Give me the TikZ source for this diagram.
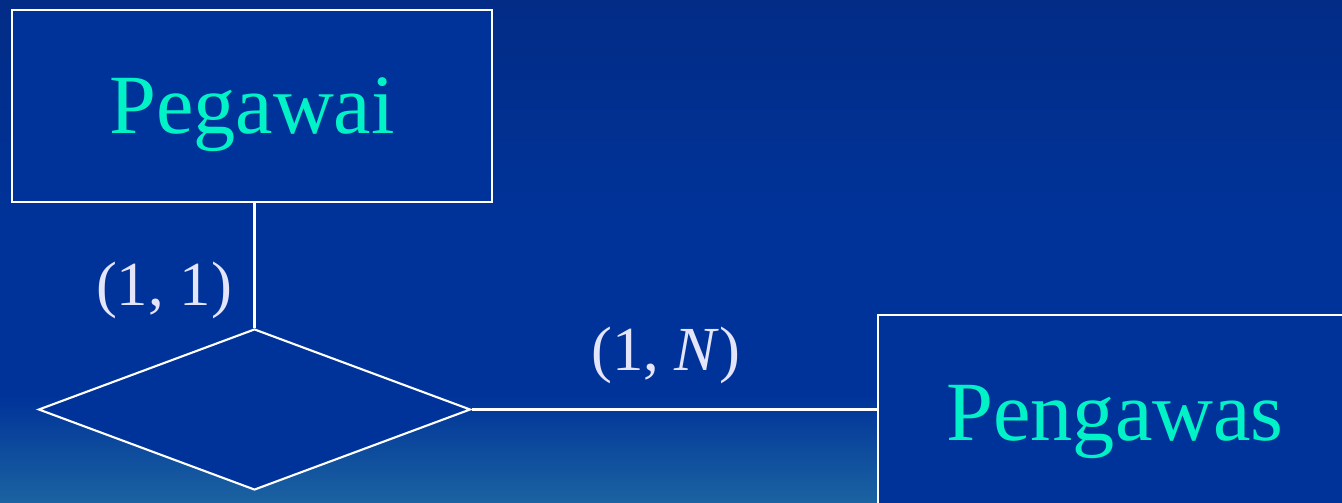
\documentclass[tikz,border=0pt]{standalone}
\usepackage{fontspec}
\setmainfont{Liberation Serif}
\usetikzlibrary{shapes.geometric}
\definecolor{bgblue}{HTML}{003399}
\definecolor{bgtop}{HTML}{022C86}
\definecolor{bgbottom}{HTML}{1B63A1}
\definecolor{entitytext}{HTML}{00F2C6}
\definecolor{labeltext}{HTML}{E4E4FA}
\tikzset{
  entity/.style={draw=white, line width=1.2pt, fill=bgblue, rectangle, inner sep=0pt},
  relation/.style={draw=white, line width=1.2pt, fill=bgblue, diamond, inner sep=0pt},
  conn/.style={draw=white, line width=1.2pt},
  enttext/.style={text=entitytext, font=\fontsize{48}{58}\selectfont, inner sep=0pt},
  cardtext/.style={text=labeltext, font=\fontsize{35.7}{43}\selectfont, inner sep=0pt, anchor=base}
}
\begin{document}
\begin{tikzpicture}[x=0.02cm, y=-0.02cm]
\useasboundingbox (0,0) rectangle (1342,503);
\clip (0,0) rectangle (1342,503);
% background
\fill[bgblue] (0,0) rectangle (1342,503);
\shade[top color=bgtop, bottom color=bgblue] (0,0) rectangle (1342,220);
\shade[top color=bgblue, bottom color=bgbottom] (0,395) rectangle (1342,503);
% nodes
\node[entity, enttext, minimum width=480*0.02cm, minimum height=192*0.02cm, text depth=0pt] (pegawai) at (252,106) {Pegawai};
\node[relation, minimum width=432*0.02cm, minimum height=161*0.02cm] (rel) at (254.5,409.5) {};
\node[entity, anchor=north west, minimum width=500*0.02cm, minimum height=200*0.02cm] (pengawas) at (877,314) {};
\node[enttext, anchor=base] (pengawastext) at (1115,440) {Pengawas};
% connectors
\draw[conn] (pegawai.south -| rel.north) -- (rel.north);
\draw[conn] (rel.east) -- (rel.east -| pengawas.west);
% cardinalities
\node[cardtext] (card1) at (164,305) {(1, 1)};
\node[cardtext] (card2) at (666,370) {(1, \textit{N})};
\end{tikzpicture}
\end{document}
